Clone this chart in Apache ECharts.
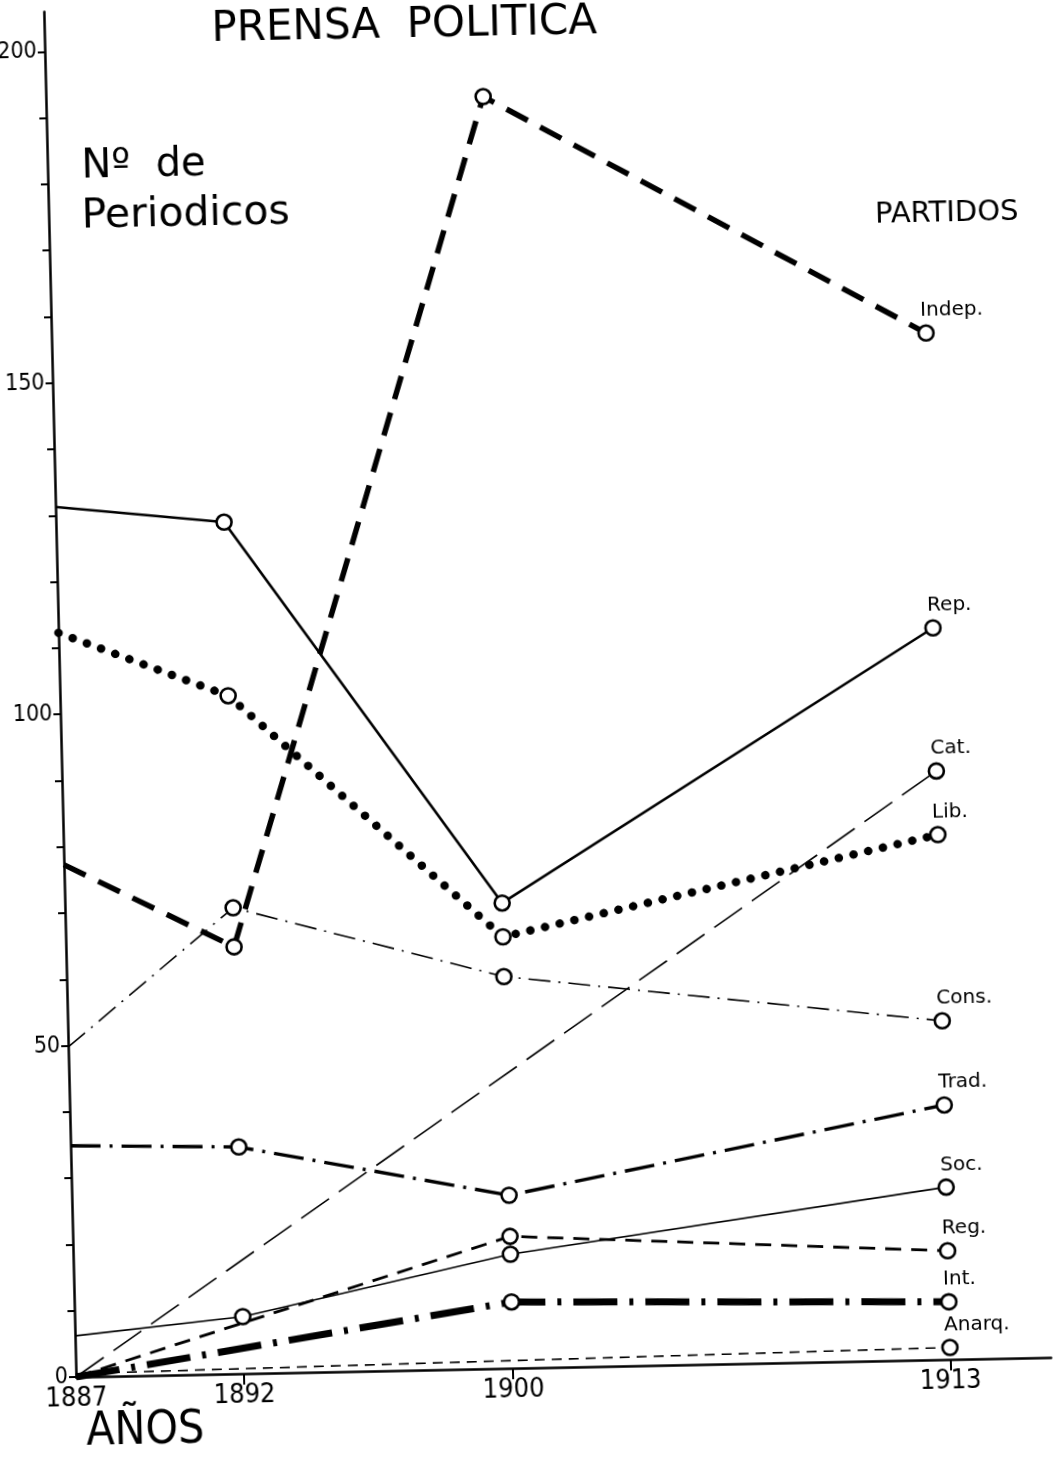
<!DOCTYPE html>
<html>
<head>
<meta charset="utf-8">
<script src="https://cdn.jsdelivr.net/npm/echarts@6/dist/echarts.min.js"></script>
<style>
html, body { margin: 0; padding: 0; background: #fff; overflow: hidden; }
#chart { width: 1054px; height: 1459px; transform: rotate(-1.15deg) skewX(0.2deg); transform-origin: 76px 1377px; }
</style>
</head>
<body>
<div id="chart"></div>
<script>
// ---- data ----
const years = [1887, 1892, 1900, 1913];
const indep = [77.3, 64.4, 191.9, 154.9];
const rep   = [131.3, 128.5, 70.2, 110.4];
const cat   = [0, null, null, 88.8];
const lib   = [112.3, 102.3, 65.1, 79.2];
const cons  = [49.8, 70.3, 59.1, 51.1];
const trad  = [34.9, 34.2, 26.1, 38.4];
const soc   = [6.2, 8.6, 17.2, 26.0];
const reg   = [0, null, 19.9, 16.4];
const intl  = [0, null, 10.0, 8.7];
const anarq = [0.5, null, null, 1.8];

const partyNames = ['Indep.', 'Rep.', 'Cat.', 'Lib.', 'Cons.', 'Trad.', 'Soc.', 'Reg.', 'Int.', 'Anarq.'];
const yTickValues = [0, 10, 20, 30, 40, 50, 60, 70, 80, 90, 100, 110, 120, 130, 140, 150, 160, 170, 180, 190, 200];
const yLabelValues = [0, 50, 100, 150, 200];
const xTickValues = [1892, 1900, 1913];
const xLabelValues = [1887, 1892, 1900, 1913];

const titleText = 'PRENSA  POLITICA';
const yTitle1 = 'Nº  de';
const yTitle2 = 'Periodicos';
const legendTitle = 'PARTIDOS';
const xTitle = 'AÑOS';

// ---- styles ----
const narrow = "'Liberation Sans Narrow', 'DejaVu Sans Condensed', 'Roboto Condensed', sans-serif";
const sans = "'DejaVu Sans', sans-serif";
const styles = [
  { width: 5.5, type: [24, 14], cap: 'butt' },         // Indep.
  { width: 2.6, type: 'solid' },                       // Rep.
  { width: 1.6, type: [34, 12] },                      // Cat.
  { width: 8.5, type: [0.1, 15], cap: 'round' },       // Lib.
  { width: 1.6, type: [22, 8, 2, 8] },                 // Cons.
  { width: 3.4, type: [30, 9, 3, 9] },                 // Trad.
  { width: 1.7, type: 'solid' },                       // Soc.
  { width: 2.8, type: [16, 10] },                      // Reg.
  { width: 7,   type: [44, 12, 4, 12] },               // Int.
  { width: 1.6, type: [10, 7] }                        // Anarq.
];
const seriesValues = [indep, rep, cat, lib, cons, trad, soc, reg, intl, anarq];

function buildSeries(name, values, st) {
  const lastIdx = values.length - 1;
  const data = [];
  values.forEach((v, i) => {
    if (v === null) return;
    const item = { value: [years[i], v], symbol: i === 0 ? 'none' : 'circle' };
    if (i === lastIdx) {
      item.label = {
        show: true,
        formatter: name,
        position: [3.5, -3.5],
        align: 'left',
        verticalAlign: 'bottom',
        fontSize: 20,
        fontFamily: sans,
        color: '#000'
      };
    }
    data.push(item);
  });
  return {
    name: name,
    type: 'line',
    data: data,
    symbolSize: 15,
    showAllSymbol: true,
    itemStyle: { color: '#fff', borderColor: '#000', borderWidth: 2.6 },
    lineStyle: Object.assign({ color: '#000' }, st),
    emphasis: { disabled: true },
    silent: true,
    z: 3
  };
}

const series = partyNames.map((n, i) => buildSeries(n, seriesValues[i], styles[i]));

const chart = echarts.init(document.getElementById('chart'), null, { renderer: 'canvas' });
chart.setOption({
  animation: false,
  backgroundColor: '#fff',
  grid: { left: 76, right: 2.7, top: 11.6, bottom: 82, containLabel: false },
  xAxis: {
    type: 'value',
    min: 1887,
    max: 1916,
    splitLine: { show: false },
    axisLine: { show: true, onZero: false, lineStyle: { color: '#000', width: 2.5 } },
    axisTick: { show: true, customValues: xTickValues, length: 11, inside: false, lineStyle: { color: '#000', width: 2 } },
    axisLabel: {
      customValues: xLabelValues,
      formatter: v => String(v),
      color: '#000',
      fontSize: 27,
      fontFamily: narrow,
      margin: 8
    }
  },
  yAxis: {
    type: 'value',
    min: 0,
    max: 206,
    splitLine: { show: false },
    axisLine: { show: true, onZero: false, lineStyle: { color: '#000', width: 2.5 } },
    axisTick: { show: true, customValues: yTickValues, length: 7, lineStyle: { color: '#000', width: 2 } },
    axisLabel: {
      customValues: yLabelValues,
      formatter: v => String(v),
      color: '#000',
      fontSize: 23,
      fontFamily: narrow,
      margin: 8
    }
  },
  graphic: [
    { type: 'text', x: 436, y: 33, style: { text: titleText, font: '42px ' + sans, fill: '#000', textAlign: 'center', textVerticalAlign: 'middle' } },
    { type: 'text', x: 110, y: 168, style: { text: yTitle1, font: '40px ' + sans, fill: '#000', textAlign: 'left', textVerticalAlign: 'middle' } },
    { type: 'text', x: 109, y: 217, style: { text: yTitle2, font: '41px ' + sans, fill: '#000', textAlign: 'left', textVerticalAlign: 'middle' } },
    { type: 'text', x: 974, y: 231, style: { text: legendTitle, font: '29px ' + sans, fill: '#000', textAlign: 'center', textVerticalAlign: 'middle' } },
    { type: 'text', x: 144, y: 1433, style: { text: xTitle, font: '46px ' + narrow, fill: '#000', textAlign: 'center', textVerticalAlign: 'middle' } }
  ],
  series: series
});
</script>
</body>
</html>
